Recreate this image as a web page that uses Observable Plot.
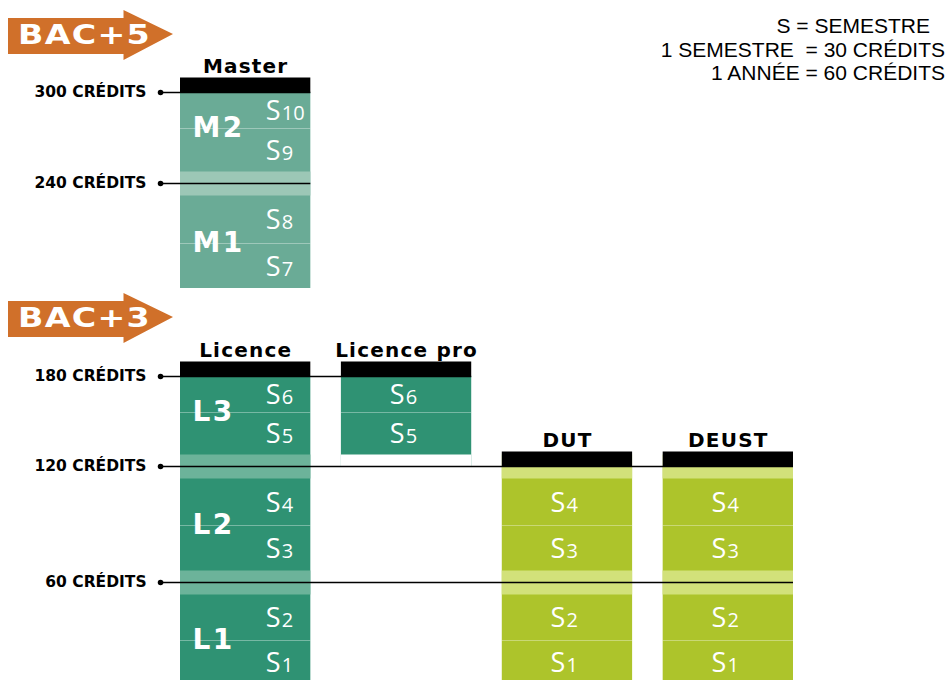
<!DOCTYPE html>
<html>
<head>
<meta charset="utf-8">
<script src="https://cdn.jsdelivr.net/npm/d3@7"></script>
<script src="https://cdn.jsdelivr.net/npm/@observablehq/plot@0.6"></script>
<style>
  html, body { margin: 0; padding: 0; background: #fff; }
  #page { position: relative; width: 947px; height: 680px; overflow: hidden; }
  .chart { position: absolute; left: 0; }
  .arrow { position: absolute; left: 8px; width: 165px; height: 50px; background: #d0702a;
    clip-path: polygon(0 16%, 70% 16%, 70% 0, 100% 48%, 70% 100%, 70% 88%, 0 88%);
    display: flex; align-items: center; }
  .arrow span { display: inline-block; font-family: "DejaVu Sans"; font-weight: bold; font-size: 26px; color: #fff;
    letter-spacing: 1px; margin-left: 10px; line-height: 1; transform: scaleX(1.28); transform-origin: left center; }
  #legend { position: absolute; right: 2px; top: 14px; text-align: right; font-family: "Liberation Sans";
    font-size: 21px; line-height: 23.5px; white-space: pre; color: #000; }
  #legend div:first-child { padding-right: 15px; }
  g[aria-description="heads"] text { letter-spacing: 1.2px; }
  g[aria-description="years"] text { letter-spacing: 2.5px; }
</style>
</head>
<body>
<div id="page"></div>
<script>
// ---- data ----
const columns = ["Master", "Licence", "Licence pro", "DUT", "DEUST"];
const columnSlot = [0, 0, 1, 2, 3];
const columnLevel = ["BAC+5", "BAC+3", "BAC+3", "BAC+3", "BAC+3"];
const firstSemester = [7, 1, 5, 1, 1];
const lastSemester = [10, 6, 6, 4, 4];
const yearNames = ["L1", "L2", "L3", "M1", "M2"];
const yearColumn = ["Licence", "Licence", "Licence", "Master", "Master"];
const creditTicks = [300, 240, 180, 120, 60];
const tickReach = ["Master", "Master", "Licence pro", "DEUST", "DEUST"];
const tickCrosses = [false, true, false, true, true];
const levels = ["BAC+5", "BAC+3"];
const legendLines = ["S = SEMESTRE", "1 SEMESTRE  = 30 CRÉDITS", "1 ANNÉE = 60 CRÉDITS"];
const creditsPerSemester = 30;
const creditsPerYear = 60;

// ---- styles / layout ----
const COL_W = 0.81;
const AXIS_X = -0.124;
const palette = {
  "Master": {fill: "#6aab96", band: "#9cc7b6"},
  "Licence": {fill: "#2f9273", band: "#6cb39a"},
  "Licence pro": {fill: "#2f9273", band: "#6cb39a"},
  "DUT": {fill: "#adc42b", band: "#d2e17a"},
  "DEUST": {fill: "#adc42b", band: "#d2e17a"}
};
const layout = {
  "BAC+5": {top: 0, height: 290, arrowTop: 10,
    domain: [180, 210, 240, 270, 300, 330], range: [288, 243, 183, 128, 92, 56]},
  "BAC+3": {top: 290, height: 390, arrowTop: 293,
    domain: [0, 30, 60, 90, 120, 150, 180, 210], range: [394, 350, 292, 235, 176, 122, 86, 50]}
};

const page = document.getElementById("page");

const cols = columns.map((name, i) => ({
  name, slot: columnSlot[i], level: columnLevel[i],
  lo: (firstSemester[i] - 1) * creditsPerSemester,
  hi: lastSemester[i] * creditsPerSemester,
  first: firstSemester[i], last: lastSemester[i],
  hasYears: yearColumn.includes(name)
}));
const colByName = Object.fromEntries(cols.map(c => [c.name, c]));
const ticks = creditTicks.map((c, i) => ({c, reach: colByName[tickReach[i]], crosses: tickCrosses[i], level: colByName[tickReach[i]].level}));

function render(level) {
  const L = layout[level];
  const cs = cols.filter(c => c.level === level);
  const tk = ticks.filter(t => t.level === level);
  const bandTicks = tk.filter(t => t.crosses).map(t => t.c);

  const bands = [];
  for (const col of cs) for (const c of bandTicks) {
    if (c >= col.lo && c <= col.hi) bands.push({slot: col.slot, c, color: c === col.lo ? "white" : palette[col.name].band});
  }
  const hasBand = (col, c) => bandTicks.includes(c) && c >= col.lo && c <= col.hi;

  const sems = [];
  for (const col of cs) for (let n = col.first; n <= col.last; n++) {
    const lo = (n - 1) * creditsPerSemester, hi = n * creditsPerSemester;
    const shift = hasBand(col, hi) ? 6 : (hasBand(col, lo) ? -6 : 0);
    sems.push({col: col.name, slot: col.slot, n, lo, hi, mid: (lo + hi) / 2, shift,
      sx: col.slot + (col.hasYears ? 0.53 : 0.3)});
  }
  const midlines = sems.filter(s => s.n % 2 === 0);
  const years = yearNames.map((name, i) => ({name, col: colByName[yearColumn[i]], mid: (i + 1) * creditsPerYear - creditsPerSemester}))
    .filter(y => y.col.level === level);

  const plot = Plot.plot({
    width: 947,
    height: L.height,
    x: {type: "linear", domain: [0, 3 + COL_W], range: [180, 793], axis: null},
    y: {type: "linear", domain: L.domain, range: L.range, axis: null},
    color: {type: "identity"},
    style: {background: "transparent", overflow: "visible"},
    marks: [
      Plot.rect(sems, {x1: d => d.slot, x2: d => d.slot + COL_W, y1: "lo", y2: "hi", fill: d => palette[d.col].fill}),
      Plot.ruleY(bands, {x1: d => d.slot, x2: d => d.slot + COL_W, y: "c", stroke: "color", strokeWidth: 24}),
      Plot.ruleY(midlines, {x1: d => d.slot, x2: d => d.slot + COL_W, y: "lo", stroke: "white", strokeOpacity: 0.35, strokeWidth: 1}),
      Plot.ruleY(tk, {x1: () => AXIS_X, x2: d => d.reach.slot + COL_W, y: "c", stroke: "black", strokeWidth: 1.5}),
      Plot.dot(tk, {x: () => AXIS_X, y: "c", r: 2.8, fill: "black"}),
      Plot.text(tk, {x: () => AXIS_X, y: "c", dx: -14, text: d => `${d.c} CRÉDITS`, textAnchor: "end",
        fontFamily: "DejaVu Sans", fontWeight: "bold", fontSize: 15.5, fill: "black"}),
      Plot.ruleY(cs, {x1: d => d.slot, x2: d => d.slot + COL_W, y: "hi", stroke: "black", strokeWidth: 15, dy: -7.5}),
      Plot.text(cs, {x: d => d.slot + COL_W / 2, y: "hi", dy: -26, text: "name", fontFamily: "DejaVu Sans",
        fontWeight: "bold", fontSize: 20, fill: "black", ariaDescription: "heads"}),
      Plot.text(years, {x: d => d.col.slot, dx: 12, y: "mid", text: "name", textAnchor: "start", fill: "white",
        fontFamily: "DejaVu Sans", fontWeight: "bold", fontSize: 28, ariaDescription: "years"}),
      Plot.text(sems, {x: "sx", y: "mid", text: () => "S", textAnchor: "start", lineAnchor: "bottom",
        fill: "white", fontFamily: "Open Sans", fontSize: 27, ariaDescription: "s"}),
      Plot.text(sems, {x: "sx", y: "mid", text: d => String(d.n), textAnchor: "start", lineAnchor: "bottom",
        fill: "white", fontFamily: "Open Sans", fontSize: 20, ariaDescription: "n"})
    ]
  });
  plot.classList.add("chart");
  plot.style.top = L.top + "px";
  page.appendChild(plot);

  // per-label vertical offsets (caps centred in the visible part of each semester)
  const sG = plot.querySelector('g[aria-description="s"]');
  const nG = plot.querySelector('g[aria-description="n"]');
  [sG, nG].forEach((g, k) => {
    g.querySelectorAll("text").forEach((t, i) => {
      const s = sems[i];
      const tr = t.getAttribute("transform") || "";
      t.setAttribute("transform", tr + ` translate(${k ? 16 : 0},${9.6 + s.shift})`);
    });
  });

  const arrow = document.createElement("div");
  arrow.className = "arrow";
  arrow.style.top = L.arrowTop + "px";
  arrow.innerHTML = `<span>${level}</span>`;
  page.appendChild(arrow);
}

levels.forEach(render);

const legend = document.createElement("div");
legend.id = "legend";
legendLines.forEach(line => {
  const d = document.createElement("div");
  d.textContent = line;
  legend.appendChild(d);
});
page.appendChild(legend);
</script>
</body>
</html>
